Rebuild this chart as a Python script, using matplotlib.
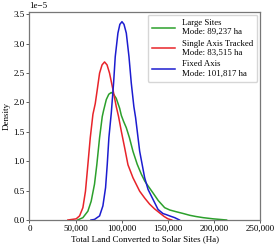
import numpy as np
import matplotlib.pyplot as plt

plt.rcParams['font.family'] = ['Liberation Serif', 'DejaVu Serif']
plt.rcParams['font.size'] = 6.5

# Density curves (x in ha, density in units of 1e-5)
large_x = [52200, 58000, 63400, 67000, 70600, 73100, 76100, 79000, 80400, 83400,
           86100, 88800, 91300, 94200, 97900, 99700, 102100, 105100, 108500, 112300,
           116900, 121400, 125200, 128700, 134100, 139800, 146700, 152300, 159400,
           167000, 174000, 180500, 188500, 199300, 213900]
large_y = [0.0, 0.04, 0.15, 0.32, 0.61, 0.94, 1.40, 1.76, 1.86, 2.05,
           2.14, 2.17, 2.14, 2.07, 1.90, 1.78, 1.68, 1.57, 1.40, 1.17,
           0.95, 0.78, 0.66, 0.58, 0.46, 0.33, 0.21, 0.17, 0.14,
           0.11, 0.08, 0.06, 0.04, 0.02, 0.0]

single_x = [41700, 50700, 54400, 58000, 60800, 63400, 66000, 68900, 71400, 73600,
            76100, 78800, 81500, 84200, 86900, 90600, 94200, 96700, 99700, 103300,
            106900, 112300, 119600, 125200, 130400, 135700, 141300, 146100, 150300,
            154400]
single_y = [0.0, 0.02, 0.07, 0.21, 0.49, 0.94, 1.40, 1.80, 1.98, 2.22,
            2.50, 2.64, 2.69, 2.64, 2.50, 2.22, 1.93, 1.76, 1.51, 1.23,
            0.94, 0.72, 0.49, 0.37, 0.27, 0.19, 0.12, 0.06, 0.02,
            0.0]

fixed_x = [66800, 70600, 76100, 79700, 82600, 84400, 86200, 88800, 91300, 93100,
           96000, 98100, 100400, 102600, 105100, 108000, 110500, 113300, 115200, 119600,
           125000, 128700, 134100, 139500, 144900, 148700, 152100, 157600, 162800]
fixed_y = [0.0, 0.01, 0.07, 0.24, 0.55, 0.94, 1.40, 1.82, 2.33, 2.78,
           3.18, 3.33, 3.375, 3.33, 3.18, 2.78, 2.33, 1.93, 1.74, 1.17,
           0.72, 0.52, 0.35, 0.18, 0.11, 0.09, 0.07, 0.04, 0.0]

labels = ["Large Sites\nMode: 89,237 ha",
          "Single Axis Tracked\nMode: 83,515 ha",
          "Fixed Axis\nMode: 101,817 ha"]
colors = ['#2ca02c', '#e8242a', '#1c1cd0']

fig = plt.figure(figsize=(2.75, 2.45), dpi=100)
ax = fig.add_axes([0.107, 0.102, 0.838, 0.849])

series = [(large_x, large_y), (single_x, single_y), (fixed_x, fixed_y)]
for (xs, ys), lab, c in zip(series, labels, colors):
    ax.plot(xs, np.array(ys) * 1e-5, color=c, lw=1.1, label=lab)

ax.set_xlim(0, 250000)
ax.set_ylim(0, 3.54e-5)
ax.set_xticks([0, 50000, 100000, 150000, 200000, 250000])
ax.set_xticklabels(['0', '50,000', '100,000', '150,000', '200,000', '250,000'])
ax.set_yticks(np.arange(0, 3.51e-5, 0.5e-5))
ax.set_xlabel("Total Land Converted to Solar Sites (Ha)", labelpad=2)
ax.set_ylabel("Density", labelpad=2)
ax.tick_params(length=2, width=0.6, pad=1.5, colors='#444444', labelcolor='black')
for s in ax.spines.values():
    s.set_color('#777777')
    s.set_linewidth(0.9)

ax.legend(loc='upper right', borderaxespad=0.3,
          handlelength=2.6, labelspacing=0.4, borderpad=0.5,
          handletextpad=0.8, fontsize=6.3)

fig.savefig('out.png', dpi=100)
